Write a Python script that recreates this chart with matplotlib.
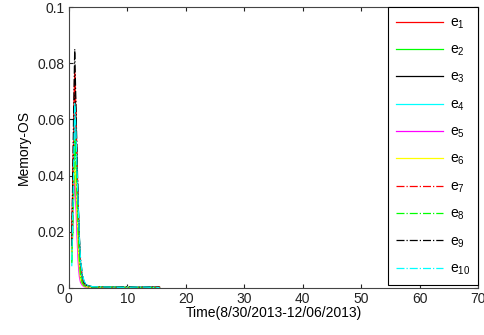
import matplotlib
matplotlib.use("Agg")
import matplotlib.pyplot as plt

plt.rcParams['font.family'] = ['Liberation Sans', 'DejaVu Sans']
plt.rcParams['mathtext.fontset'] = 'custom'
plt.rcParams['mathtext.rm'] = 'Liberation Sans'
plt.rcParams['font.size'] = 10

# days since start
x = [0.5, 0.8, 1.0, 1.2, 1.4, 1.6, 1.8, 2.0, 2.3, 2.6, 3.0, 4.0, 6.0, 8.0, 10.0, 12.0, 14.0, 15.5]

e1 = [0.018, 0.052, 0.078, 0.061, 0.040, 0.026, 0.014, 0.006, 0.002, 0.001, 0.0005, 0.0003, 0.0003, 0.0002, 0.0003, 0.0002, 0.0003, 0.0004]
e2 = [0.010, 0.030, 0.047, 0.052, 0.038, 0.022, 0.011, 0.005, 0.002, 0.001, 0.0006, 0.0003, 0.0003, 0.0004, 0.0002, 0.0003, 0.0002, 0.0002]
e3 = [0.012, 0.045, 0.070, 0.058, 0.043, 0.029, 0.017, 0.009, 0.004, 0.002, 0.001, 0.0004, 0.0003, 0.0003, 0.0002, 0.0003, 0.0004, 0.0002]
e4 = [0.008, 0.034, 0.064, 0.056, 0.041, 0.028, 0.016, 0.008, 0.003, 0.0015, 0.0008, 0.0004, 0.0003, 0.0003, 0.0004, 0.0003, 0.0003, 0.0002]
e5 = [0.014, 0.032, 0.041, 0.030, 0.018, 0.009, 0.004, 0.002, 0.001, 0.0005, 0.0003, 0.0002, 0.0002, 0.0002, 0.0002, 0.0002, 0.0002, 0.0002]
e6 = [0.011, 0.036, 0.045, 0.037, 0.025, 0.014, 0.007, 0.003, 0.0015, 0.0007, 0.0004, 0.0003, 0.0002, 0.0002, 0.0003, 0.0002, 0.0002, 0.0002]
e7 = [0.017, 0.050, 0.076, 0.063, 0.044, 0.028, 0.015, 0.007, 0.003, 0.0012, 0.0006, 0.0003, 0.0003, 0.0002, 0.0002, 0.0003, 0.0002, 0.0005]
e8 = [0.009, 0.033, 0.053, 0.045, 0.032, 0.020, 0.010, 0.004, 0.0018, 0.0009, 0.0005, 0.0003, 0.0004, 0.0003, 0.0002, 0.0002, 0.0002, 0.0002]
e9 = [0.015, 0.060, 0.085, 0.066, 0.047, 0.030, 0.018, 0.010, 0.005, 0.002, 0.001, 0.0005, 0.0004, 0.0003, 0.0005, 0.0003, 0.0004, 0.0003]
e10 = [0.010, 0.040, 0.066, 0.057, 0.042, 0.029, 0.018, 0.010, 0.005, 0.0025, 0.0012, 0.0005, 0.0004, 0.0003, 0.0003, 0.0004, 0.0003, 0.0002]

series = [e1, e2, e3, e4, e5, e6, e7, e8, e9, e10]
labels = ['$\\mathregular{e_{%d}}$' % (i + 1) for i in range(10)]
colors = ['#ff0000', '#00ff00', '#000000', '#00ffff', '#ff00ff', '#ffff00',
          '#ff0000', '#00ff00', '#000000', '#00ffff']
styles = ['-'] * 6 + ['-.'] * 4

fig = plt.figure(figsize=(4.85, 3.35), dpi=100)
ax = fig.add_axes([0.142, 0.140, 0.844, 0.839])

for ys, lab, c, ls in zip(series, labels, colors, styles):
    ax.plot(x, ys, color=c, linestyle=ls, linewidth=0.9, label=lab)

ax.set_xlim(0, 70)
ax.set_ylim(0, 0.1)
ax.set_xticks(range(0, 71, 10))
ax.set_yticks([0, 0.02, 0.04, 0.06, 0.08, 0.1])
ax.set_yticklabels(['0', '0.02', '0.04', '0.06', '0.08', '0.1'])
ax.tick_params(direction='in', top=True, right=True, length=3, labelsize=10,
               colors='#222222', pad=3)
for sp in ax.spines.values():
    sp.set_linewidth(0.8)
    sp.set_color('#444444')

ax.set_xlabel('Time(8/30/2013-12/06/2013)', fontsize=10, labelpad=0)
ax.set_ylabel('Memory-OS', fontsize=10, labelpad=5)

leg = ax.legend(loc='upper right', borderaxespad=0.0, labelspacing=0.86,
                handlelength=3.4, handletextpad=0.45, fancybox=False,
                edgecolor='black', framealpha=1, fontsize=10,
                borderpad=0.6)
leg.get_frame().set_linewidth(0.8)

fig.savefig('out.png', dpi=100)
